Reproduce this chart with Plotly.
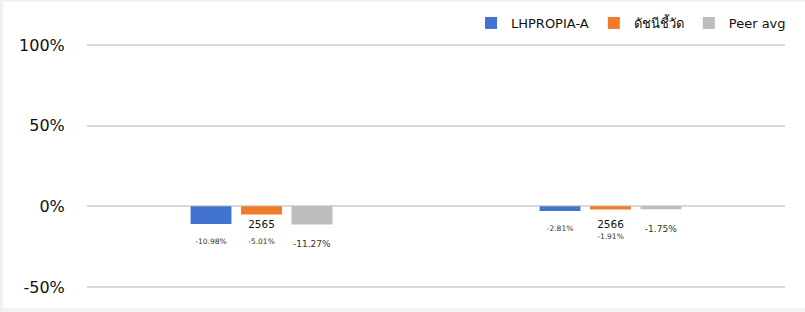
import plotly.graph_objects as go

categories = ["2565", "2566"]
series_names = ["LHPROPIA-A", "ดัชนีชี้วัด", "Peer avg"]
lhpropia = [-10.98, -2.81]
index_vals = [-5.01, -1.91]
peer_avg = [-11.27, -1.75]
y_tick_vals = [-50, 0, 50, 100]
y_tick_text = ["-50%", "0%", "50%", "100%"]

colors = ["#4273CE", "#F07A28", "#BDBDBD"]
label_sizes = [7.5, 7.5, 9]
label_templates = ["&nbsp;<br>%{text}", "&nbsp;<br>&nbsp;<br>%{text}", "&nbsp;<br>%{text}"]
FONT = "DejaVu Sans, Noto Sans, sans-serif"

fig = go.Figure()
for name, vals, col, ls, tt in zip(series_names, [lhpropia, index_vals, peer_avg],
                                   colors, label_sizes, label_templates):
    fig.add_trace(go.Bar(
        x=categories, y=vals, name=name,
        marker=dict(color=col, line=dict(width=0)),
        text=[f"{v:.2f}%" for v in vals],
        texttemplate=tt,
        textposition="outside",
        textfont=dict(size=ls, color="#333333", family=FONT),
        cliponaxis=False,
    ))

ymin, ymax = -58, 126.6
fig.update_layout(
    width=805, height=312,
    margin=dict(l=87, r=20, t=2, b=12, autoexpand=False),
    paper_bgcolor="#f2f2f2",
    plot_bgcolor="rgba(0,0,0,0)",
    barmode="group",
    bargap=0.566,
    bargroupgap=0.19,
    font=dict(family=FONT, color="#111111"),
    showlegend=True,
    legend=dict(
        orientation="h", x=1.0 + 6 / 698, xanchor="right", y=(300 - 23) / 298, yanchor="middle",
        font=dict(size=13, color="#111111", family=FONT),
        bgcolor="rgba(0,0,0,0)", itemwidth=30, tracegroupgap=0,
    ),
    shapes=[dict(
        type="rect", xref="paper", yref="paper",
        x0=-84 / 698, x1=718 / 698, y0=-8 / 298, y1=1,
        fillcolor="white", line=dict(width=0), layer="below",
    )],
)
fig.update_yaxes(
    range=[ymin, ymax], automargin=False,
    tickvals=y_tick_vals, ticktext=y_tick_text,
    showgrid=True, gridcolor="#d9d9d9", gridwidth=1.5,
    zeroline=False, showline=False,
    ticks="outside", ticklen=18, tickcolor="rgba(0,0,0,0)",
    tickfont=dict(size=16, color="#111111", family=FONT),
)
fig.update_xaxes(
    anchor="free", position=(0 - ymin) / (ymax - ymin), automargin=False,
    showgrid=False, zeroline=False, showline=False,
    ticks="outside", ticklen=8, tickcolor="rgba(0,0,0,0)",
    tickfont=dict(size=10.5, color="#111111", family=FONT),
)

fig.write_html("out.html", config={"displayModeBar": False},
               post_script="document.body.style.margin='0';")
